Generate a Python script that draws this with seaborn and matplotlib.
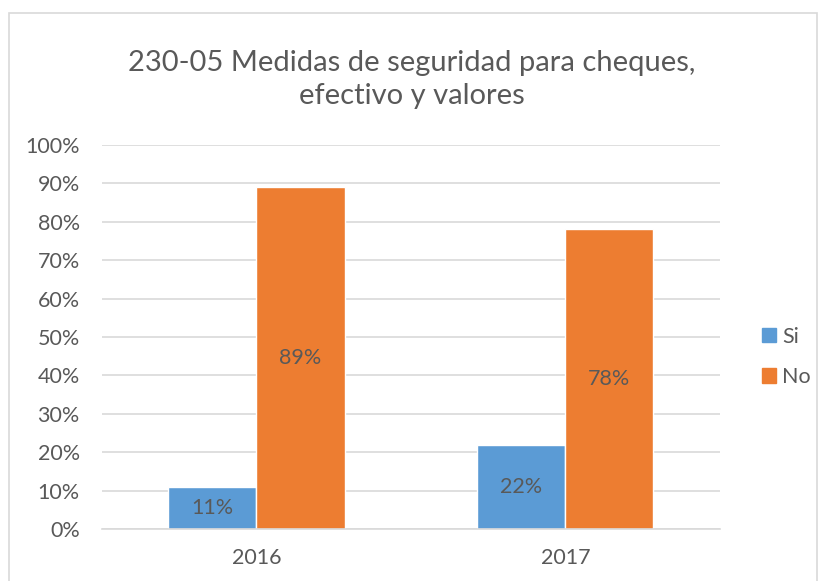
import matplotlib
matplotlib.use("Agg")
import matplotlib.pyplot as plt
import matplotlib.patches as mpatches
import seaborn as sns
import pandas as pd

years = ["2016", "2017"]
series = ["Si", "No"]
si_values = [11, 22]
no_values = [89, 78]
yticks = [0, 10, 20, 30, 40, 50, 60, 70, 80, 90, 100]
title = "230-05 Medidas de seguridad para cheques,\nefectivo y valores"
colors = {"Si": "#5B9BD5", "No": "#ED7D31"}

df = pd.DataFrame({
    "year": years * 2,
    "serie": ["Si"] * len(years) + ["No"] * len(years),
    "value": si_values + no_values,
})

sns.set_style("white")
plt.rcParams["font.family"] = ["Lato", "DejaVu Sans"]
text_color = "#595959"
fs = 15.5

fig = plt.figure(figsize=(8.19, 5.81), dpi=100)
ax = fig.add_axes([0.1245, 0.0895, 0.7545, 0.6609])

sns.barplot(data=df, x="year", y="value", hue="serie", hue_order=series,
            palette=colors, width=0.57, ax=ax, legend=False, saturation=1)

for cont in ax.containers:
    ax.bar_label(cont, labels=[f"{v:.0f}%" for v in cont.datavalues],
                 label_type="center", color=text_color, fontsize=fs)

ax.set_ylim(0, 100)
ax.set_xlim(-0.5, 1.5)
ax.set_yticks(yticks)
ax.set_yticklabels([f"{t}%" for t in yticks])
ax.yaxis.grid(True, color="#D9D9D9", linewidth=1.2)
ax.set_axisbelow(True)
for s in ["top", "right", "left"]:
    ax.spines[s].set_visible(False)
ax.spines["bottom"].set_color("#D9D9D9")
ax.spines["bottom"].set_linewidth(1.2)
ax.tick_params(axis="both", length=0, labelsize=fs, colors=text_color)
ax.tick_params(axis="x", pad=14)
ax.tick_params(axis="y", pad=16)
ax.set_xlabel("")
ax.set_ylabel("")

fig.text(0.503, 0.863, title, ha="center", va="center", fontsize=21,
         color=text_color, linespacing=1.3)

handles = [mpatches.Patch(color=colors[s], label=s) for s in series]
fig.legend(handles=handles, loc="center left", bbox_to_anchor=(0.93, 0.386),
           frameon=False, fontsize=fs, labelcolor=text_color,
           handlelength=0.65, handleheight=0.65, handletextpad=0.3,
           labelspacing=0.95, borderaxespad=0, borderpad=0)

border = mpatches.Rectangle((0.011, -0.01), 0.986, 0.988, transform=fig.transFigure,
                            fill=False, edgecolor="#D9D9D9", linewidth=1.2)
fig.patches.append(border)

fig.savefig("out.png", dpi=100, facecolor="white")
